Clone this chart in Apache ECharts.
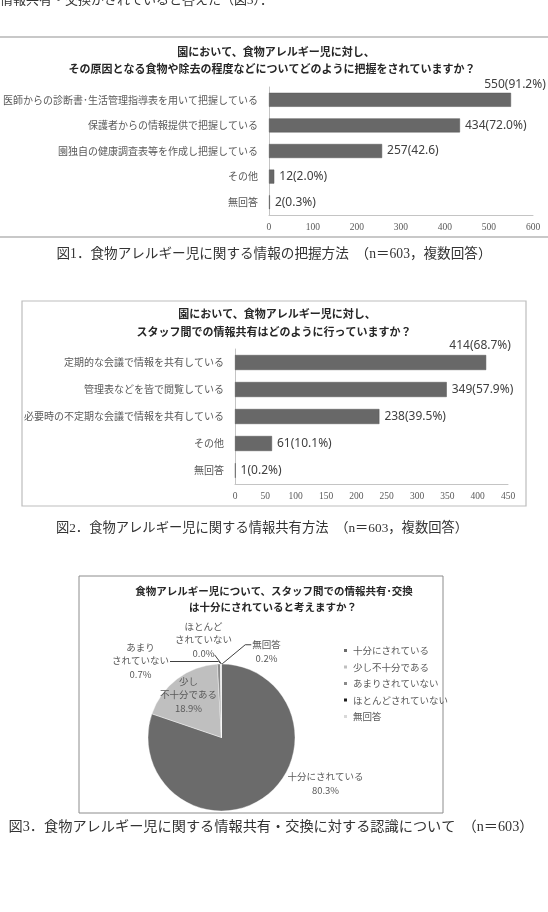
<!DOCTYPE html>
<html>
<head>
<meta charset="utf-8">
<script src="https://cdn.jsdelivr.net/npm/echarts@6/dist/echarts.min.js"></script>
<style>
  html, body { margin: 0; padding: 0; background: #fff; }
  #chart { width: 548px; height: 912px; }
</style>
</head>
<body>
<div id="chart"></div>
<script>
// fig 1: how allergy info is collected
const graspCategories = [
  '医師からの診断書･生活管理指導表を用いて把握している',
  '保護者からの情報提供で把握している',
  '園独自の健康調査表等を作成し把握している',
  'その他',
  '無回答'
];
const graspValues = [550, 434, 257, 12, 2];
const graspLabels = ['550(91.2%)', '434(72.0%)', '257(42.6)', '12(2.0%)', '2(0.3%)'];
const graspAxis = [0, 600, 100]; // min, max, interval

// fig 2: how info is shared among staff
const shareCategories = [
  '定期的な会議で情報を共有している',
  '管理表などを皆で閲覧している',
  '必要時の不定期な会議で情報を共有している',
  'その他',
  '無回答'
];
const shareValues = [414, 349, 238, 61, 1];
const shareLabels = ['414(68.7%)', '349(57.9%)', '238(39.5%)', '61(10.1%)', '1(0.2%)'];
const shareAxis = [0, 450, 50];

// fig 3: is sharing sufficient
const pieNames = ['十分にされている', '少し不十分である', 'あまりされていない', 'ほとんどされていない', '無回答'];
const pieLabelNames = ['十分にされている', '少し\n不十分である', 'あまり\nされていない', 'ほとんど\nされていない', '無回答'];
const pieValues = [80.3, 18.9, 0.7, 0.0, 0.2];

const pieColors = ['#6b6b6b', '#bfbfbf', '#8a8a8a', '#1e1e1e', '#d9d9d9'];
const pieCx = 221.5, pieCy = 737.5, pieR = 73.5;
// label centre offsets from pie centre
const pieLabelOffsets = [[104, 46], [-33, -43], [-81, -77], [-18, -98], [45, -86]];

const jp = '"Noto Sans CJK JP", "Noto Sans", sans-serif';
const serif = '"Liberation Serif", "Noto Sans CJK JP", serif';
const barColor = '#686868';

function barAxes(cats, axis, idx) {
  return {
    x: {
      type: 'value', gridIndex: idx, min: axis[0], max: axis[1], interval: axis[2],
      axisLine: { show: true, lineStyle: { color: '#c4c4c4', width: 1 } },
      axisTick: { show: false },
      splitLine: { show: false },
      axisLabel: { color: '#595959', fontSize: 9.5, fontFamily: serif, margin: 8 }
    },
    y: {
      type: 'category', gridIndex: idx, data: cats, inverse: true,
      axisLine: { show: true, lineStyle: { color: '#c4c4c4', width: 1 } },
      axisTick: { show: false },
      axisLabel: { color: '#595959', fontSize: 10, fontFamily: jp, margin: 11 }
    }
  };
}

function barSeries(vals, labels, idx, width, topOffset) {
  return {
    type: 'bar', xAxisIndex: idx, yAxisIndex: idx, barWidth: width,
    itemStyle: { color: barColor, borderColor: '#555', borderWidth: 0.5 },
    label: {
      show: true, position: 'right', distance: 5,
      color: '#404040', fontSize: 12, fontFamily: '"Noto Sans", sans-serif',
      formatter: p => labels[p.dataIndex]
    },
    data: vals.map((v, i) => i === 0 ? {
      value: v,
      label: { position: ['100%', 0], align: 'center', verticalAlign: 'bottom', offset: topOffset }
    } : v)
  };
}

const a1 = barAxes(graspCategories, graspAxis, 0);
const a2 = barAxes(shareCategories, shareAxis, 1);

function txt(x, y, text, font, fill, align) {
  return {
    type: 'text', x: x, y: y, silent: true,
    style: { text: text, font: font, fill: fill || '#262626', align: align || 'center', verticalAlign: 'middle', lineHeight: 17 }
  };
}

const chart = echarts.init(document.getElementById('chart'), null, { renderer: 'canvas' });
chart.setOption({
  backgroundColor: '#fff',
  animation: false,
  grid: [
    { left: 265, right: 15, top: 87, height: 128 },
    { left: 235, right: 40, top: 349, height: 135 }
  ],
  xAxis: [a1.x, a2.x],
  yAxis: [a1.y, a2.y],
  legend: {
    orient: 'vertical', left: 337, top: 639,
    icon: 'rect', itemWidth: 5, itemHeight: 5, itemGap: 3.5,
    textStyle: { color: '#595959', fontSize: 9.5, fontFamily: jp, lineHeight: 13 },
    data: pieNames
  },
  series: [
    barSeries(graspValues, graspLabels, 0, 14, [4, -2]),
    barSeries(shareValues, shareLabels, 1, 15, [-6, -3]),
    {
      type: 'pie', center: [pieCx, pieCy], radius: pieR,
      startAngle: 90, clockwise: true, avoidLabelOverlap: false,
      itemStyle: { borderColor: '#fff', borderWidth: 0.4 },
      label: {
        show: true, position: 'outside', color: '#595959', fontSize: 9.5, fontFamily: jp,
        lineHeight: 13.5, align: 'center',
        formatter: p => pieLabelNames[p.dataIndex] + '\n' + p.value.toFixed(1) + '%'
      },
      labelLine: { show: true, lineStyle: { color: '#404040', width: 1 } },
      labelLayout: function (p) {
        const off = pieLabelOffsets[p.dataIndex];
        const x = pieCx + off[0], y = pieCy + off[1];
        const w = p.labelRect.width, h = p.labelRect.height;
        const res = { x: x, y: y, align: 'center', verticalAlign: 'middle' };
        const anchor = [pieCx, pieCy - pieR];
        if (p.dataIndex === 2) {
          res.labelLinePoints = [anchor, [pieCx - 3, y + 1], [x + w / 2 + 1, y + 1]];
        } else if (p.dataIndex === 3) {
          const e = [x + 11, y + h / 2 - 5];
          res.labelLinePoints = [anchor, e, e];
        } else if (p.dataIndex === 4) {
          res.labelLinePoints = [[pieCx + 0.5, pieCy - pieR], [x - w / 2 - 7, y - h / 4], [x - w / 2 - 1, y - h / 4]];
        }
        return res;
      },
      data: pieValues.map((v, i) => ({
        name: pieNames[i], value: v,
        itemStyle: { color: pieColors[i] },
        labelLine: { show: i >= 2 }
      }))
    }
  ],
  graphic: [
    txt(0, 1, '情報共有・交換がされていると答えた（図3）．', '13px ' + serif, '#333', 'left'),
    // figure 1 frame
    { type: 'line', silent: true, shape: { x1: 0, y1: 37, x2: 548, y2: 37 }, style: { stroke: '#c8c8c8', lineWidth: 2 } },
    { type: 'line', silent: true, shape: { x1: 0, y1: 237, x2: 548, y2: 237 }, style: { stroke: '#c8c8c8', lineWidth: 2 } },
    txt(276, 52, '園において、食物アレルギー児に対し、', 'bold 11px ' + jp),
    txt(272, 69, 'その原因となる食物や除去の程度などについてどのように把握をされていますか？', 'bold 11px ' + jp),
    txt(274, 254, '図1．食物アレルギー児に関する情報の把握方法　（n＝603，複数回答）', '13.6px ' + serif, '#333'),
    // figure 2 frame
    { type: 'rect', silent: true, shape: { x: 22, y: 301, width: 504, height: 205 }, style: { fill: 'none', stroke: '#bdbdbd', lineWidth: 1.2 } },
    txt(277, 314, '園において、食物アレルギー児に対し、', 'bold 11px ' + jp),
    txt(274, 332, 'スタッフ間での情報共有はどのように行っていますか？', 'bold 11px ' + jp),
    txt(262, 529, '図2．食物アレルギー児に関する情報共有方法　（n＝603，複数回答）', '13.3px ' + serif, '#333'),
    // figure 3 frame
    { type: 'rect', silent: true, shape: { x: 79, y: 576, width: 364, height: 237 }, style: { fill: 'none', stroke: '#8c8c8c', lineWidth: 1 } },
    txt(274, 591, '食物アレルギー児について、スタッフ間での情報共有･交換', 'bold 10.5px ' + jp),
    txt(273, 607, 'は十分にされていると考えますか？', 'bold 10.5px ' + jp),
    txt(271, 827, '図3．食物アレルギー児に関する情報共有・交換に対する認識について　（n＝603）', '14.2px ' + serif, '#333')
  ]
});
</script>
</body>
</html>
